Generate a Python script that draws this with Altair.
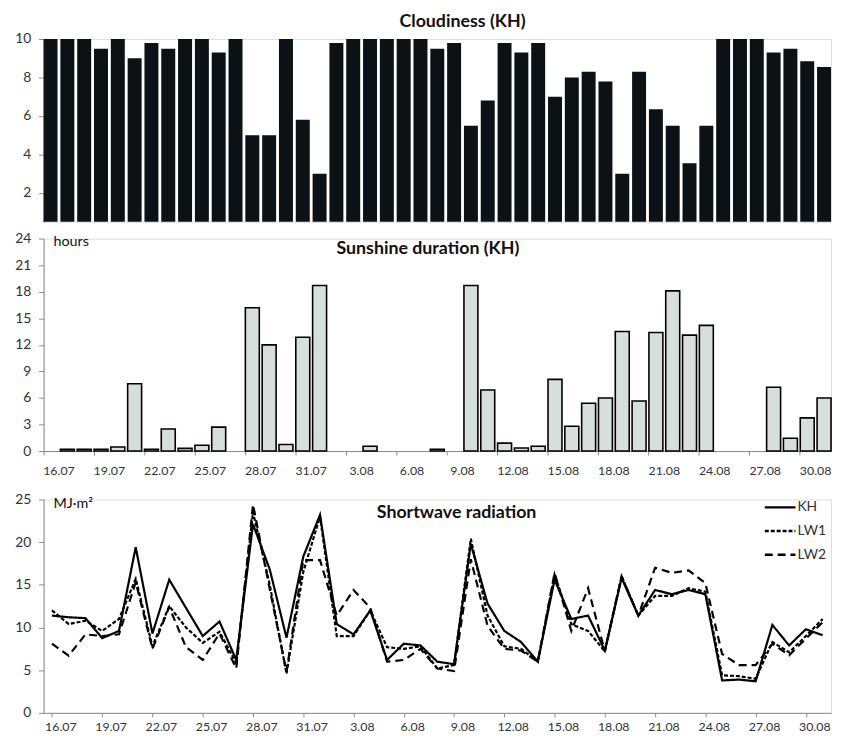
import altair as alt
import pandas as pd

dates = ["16.07", "17.07", "18.07", "19.07", "20.07", "21.07", "22.07", "23.07",
         "24.07", "25.07", "26.07", "27.07", "28.07", "29.07", "30.07", "31.07",
         "1.08", "2.08", "3.08", "4.08", "5.08", "6.08", "7.08", "8.08", "9.08",
         "10.08", "11.08", "12.08", "13.08", "14.08", "15.08", "16.08", "17.08",
         "18.08", "19.08", "20.08", "21.08", "22.08", "23.08", "24.08", "25.08",
         "26.08", "27.08", "28.08", "29.08", "30.08", "31.08"]
tick_dates = ["16.07", "19.07", "22.07", "25.07", "28.07", "31.07", "3.08", "6.08",
              "9.08", "12.08", "15.08", "18.08", "21.08", "24.08", "27.08", "30.08"]

cloudiness = [10, 10, 10, 9.5, 10, 9.0, 9.8, 9.5, 10, 10, 9.3, 10, 5, 5, 10, 5.8, 3,
              9.8, 10, 10, 10, 10, 10,
              9.5, 9.8, 5.5, 6.8, 9.8, 9.3, 9.8, 7.0, 8.0, 8.3, 7.8, 3.0, 8.3, 6.35,
              5.5, 3.55, 5.5, 10, 10, 10, 9.3, 9.5, 8.85, 8.55]
sunshine = [0, 0.2, 0.2, 0.2, 0.45, 7.6, 0.2, 2.5, 0.3, 0.65, 2.7, 0, 16.2, 12.0,
            0.75, 12.85, 18.7, 0, 0, 0.55, 0, 0, 0,
            0.2, 0, 18.7, 6.9, 0.9, 0.35, 0.55, 8.1, 2.8, 5.4, 6.0, 13.5, 5.65, 13.4,
            18.1, 13.1, 14.2, 0, 0, 0, 7.2, 1.45, 3.75, 6.0]
kh = [11.4, 11.2, 11.1, 8.75, 9.6, 19.4, 9.3, 15.6, 12.3, 9.0, 10.7, 6.2, 22.1, 16.8,
      8.8, 18.3, 23.2, 10.4, 9.2, 12.0, 6.2, 8.1, 7.9, 6.0, 5.7, 19.8, 12.8, 9.6, 8.3,
      6.0, 15.6, 11.0, 11.4, 7.3, 15.8, 11.4, 14.4, 13.9, 14.4, 13.9, 3.8, 3.9, 3.7,
      10.3, 7.9, 9.8, 9.1]
lw1 = [12.0, 10.4, 10.8, 9.6, 11.0, 15.7, 7.8, 12.5, 10.0, 8.2, 9.5, 5.8, 23.5, 15.0,
       4.6, 16.5, 23.0, 9.0, 9.0, 12.0, 7.7, 7.5, 7.8, 5.2, 5.6, 20.4, 11.4, 7.8, 7.5,
       6.0, 16.2, 10.4, 9.6, 7.2, 16.0, 11.4, 13.7, 13.7, 14.6, 14.2, 4.4, 4.3, 4.0,
       8.3, 7.1, 9.0, 11.0]
lw2 = [8.1, 6.7, 9.2, 9.0, 9.2, 15.3, 7.5, 12.4, 7.7, 6.2, 9.3, 5.2, 24.4, 14.5,
       4.8, 17.9, 17.9, 11.4, 14.4, 12.3, 6.0, 6.2, 7.5, 5.2, 4.9, 18.0, 10.2, 7.5, 7.3,
       6.0, 16.4, 9.6, 14.6, 7.2, 16.0, 11.4, 17.0, 16.4, 16.7, 15.2, 6.9, 5.6, 5.6,
       8.1, 6.75, 8.7, 10.6]
series_names = ["KH", "LW1", "LW2"]
dash_styles = [[1, 0], [4, 2], [8, 5]]

FONT = "Lato"
W = 797
AXIS_GREY = "#8a8a8a"

df_cloud = pd.DataFrame({"date": dates, "value": cloudiness})
df_sun = pd.DataFrame({"date": dates, "value": sunshine})
df_rad = pd.DataFrame({
    "date": dates * 3,
    "series": [s for s in series_names for _ in dates],
    "value": kh + lw1 + lw2,
})
df_leg = pd.DataFrame({"series": series_names})

xscale = alt.Scale(domain=dates, paddingInner=0.17, paddingOuter=0)
dash_scale = alt.Scale(domain=series_names, range=dash_styles)


def yaxis(values, blue=False):
    return alt.Axis(values=values, title=None, grid=False, tickSize=5, labelPadding=8,
                    minExtent=30, maxExtent=30, labelFontSize=14, labelColor="#333333",
                    domainColor="#4a78c0" if blue else AXIS_GREY,
                    domainWidth=1.5 if blue else 1, tickColor=AXIS_GREY)


def xaxis(pad):
    return alt.Axis(values=tick_dates, bandPosition=0, title=None, labelAngle=0,
                    tickSize=4, labelPadding=pad, labelOffset=8.5, labelFontSize=12.5,
                    labelColor="#333333", domainColor=AXIS_GREY, tickColor=AXIS_GREY,
                    labelOverlap=False, grid=False)


def label(text, x, y, size=18, bold=True, align="center", baseline="middle"):
    return alt.Chart(pd.DataFrame({"t": [text]})).mark_text(
        font=FONT, fontSize=size, fontWeight="bold" if bold else "normal",
        align=align, baseline=baseline, color="#111111"
    ).encode(text="t:N", x=alt.value(x), y=alt.value(y))


cloud_bars = alt.Chart(df_cloud).mark_bar(color="#0b1114", clip=True).encode(
    x=alt.X("date:N", sort=dates, scale=xscale, axis=None),
    y=alt.Y("value:Q", scale=alt.Scale(domain=[0.5, 10], nice=False),
            axis=yaxis([2, 4, 6, 8, 10], blue=True)),
)
cloud = alt.layer(
    cloud_bars, label("Cloudiness (KH)", 424, -26, baseline="top")
).properties(width=W, height=185)

sun_bars = alt.Chart(df_sun).transform_filter("datum.value > 0").mark_bar(
    color="#d6dfdc", stroke="black", strokeWidth=1.6
).encode(
    x=alt.X("date:N", sort=dates, scale=xscale, axis=xaxis(10)),
    y=alt.Y("value:Q", scale=alt.Scale(domain=[0, 24], nice=False),
            axis=yaxis(list(range(0, 25, 3)))),
)
sun = alt.layer(
    sun_bars,
    label("hours", 10, 3, size=14.5, bold=False, align="left"),
    label("Sunshine duration (KH)", 389, 11),
).properties(width=W, height=215)

rad_lines = alt.Chart(df_rad).mark_line(color="black", strokeWidth=2.2).encode(
    x=alt.X("date:N", sort=dates, scale=xscale, axis=xaxis(4)),
    y=alt.Y("value:Q", scale=alt.Scale(domain=[0, 25], nice=False),
            axis=yaxis(list(range(0, 26, 5)))),
    strokeDash=alt.StrokeDash("series:N", scale=dash_scale, legend=None),
    detail="series:N",
)
leg_y = alt.Y("series:N", sort=series_names,
              scale=alt.Scale(type="point", range=[8, 56], padding=0), axis=None)
leg_rules = alt.Chart(df_leg).mark_rule(color="black", strokeWidth=2.5).encode(
    x=alt.value(730), x2=alt.value(761), y=leg_y,
    strokeDash=alt.StrokeDash("series:N", scale=dash_scale, legend=None),
)
leg_text = alt.Chart(df_leg).mark_text(
    font=FONT, fontSize=14, align="left", baseline="middle", color="#333333"
).encode(x=alt.value(763), y=leg_y, text="series:N")
legend = alt.layer(leg_rules, leg_text)

rad = alt.layer(
    rad_lines,
    legend,
    label("MJ·m²", 10, 5, size=14.5, bold=False, align="left"),
    label("Shortwave radiation", 418, 14),
).resolve_scale(y="independent").properties(width=W, height=216)

top = alt.vconcat(cloud, sun, spacing=8)
chart = alt.vconcat(top, rad, spacing=14).properties(
    padding={"left": 5, "right": 0, "top": 0, "bottom": 0}
).configure_view(stroke=None).configure(font=FONT)

chart.save("out.html", embed_options={"renderer": "svg", "actions": False})
